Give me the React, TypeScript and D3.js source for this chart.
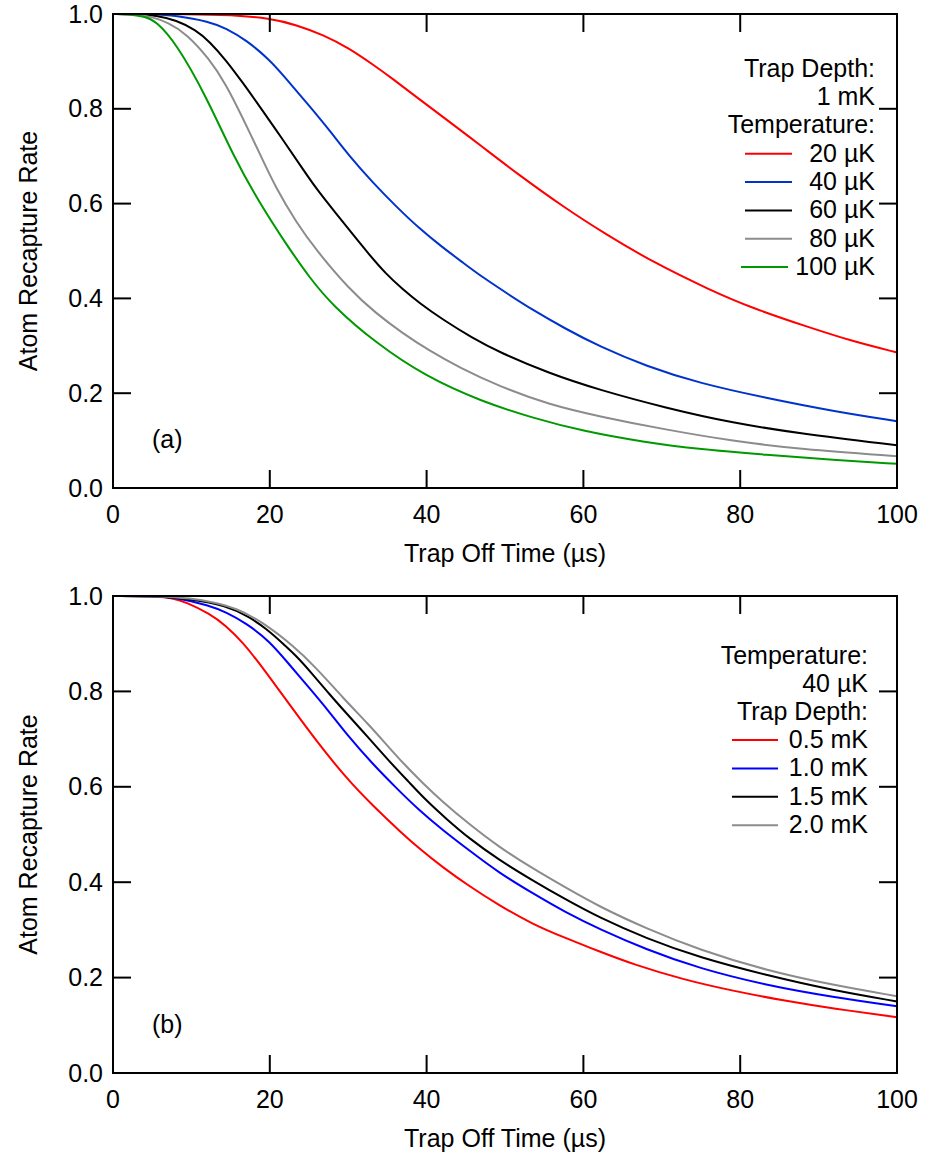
import React from "react";
import * as d3 from "d3";

type Pt = [number, number];

// Panel (a): trap depth 1 mK, varying temperature
const a20uK: Pt[] = [[0,1],[10,1],[15,0.998],[20,0.991],[23.4,0.977],[26.8,0.956],[30.1,0.928],[33.1,0.894],[35.7,0.863],[38.6,0.826],[42,0.784],[47.1,0.72],[51.4,0.665],[57.7,0.59],[62.9,0.535],[68.8,0.477],[76.1,0.418],[81.6,0.379],[88.4,0.341],[94.4,0.309],[100,0.286]];
const a40uK: Pt[] = [[0,1],[5,1],[8,0.997],[12.3,0.984],[14.4,0.97],[17,0.945],[20,0.903],[21.7,0.871],[25.1,0.805],[27.6,0.755],[30.1,0.701],[33.1,0.645],[36.1,0.594],[39.1,0.547],[42,0.508],[44.6,0.476],[47.1,0.445],[50.5,0.408],[53.5,0.376],[57.7,0.336],[62,0.299],[68,0.257],[74.8,0.221],[83.3,0.19],[91.9,0.162],[100,0.141]];
const a60uK: Pt[] = [[0,1],[3,1],[5.5,0.997],[8.07,0.987],[10.6,0.966],[12.3,0.942],[14.4,0.903],[16.6,0.854],[18.7,0.805],[21.7,0.734],[24.2,0.673],[25.9,0.632],[28.5,0.578],[30.6,0.535],[32.7,0.492],[34.8,0.452],[36.9,0.42],[39.1,0.39],[42,0.356],[45.9,0.316],[49.2,0.287],[55.6,0.242],[62,0.207],[70.5,0.169],[79.1,0.137],[87.6,0.115],[100,0.09]];
const a80uK: Pt[] = [[0,1],[3,0.999],[5,0.994],[7,0.982],[9.34,0.959],[12.3,0.905],[14.4,0.852],[16.6,0.779],[18.7,0.706],[20.8,0.632],[23.4,0.56],[25.9,0.502],[30.1,0.42],[33.5,0.369],[36.9,0.327],[40.3,0.29],[44.2,0.254],[49.2,0.215],[55.6,0.176],[62,0.151],[70.5,0.123],[79.1,0.099],[87.6,0.082],[100,0.067]];
const a100uK: Pt[] = [[0,1],[2,1],[4,0.995],[5.5,0.985],[8.07,0.938],[11.9,0.826],[15.3,0.702],[18.7,0.601],[22.1,0.514],[25.1,0.443],[28,0.385],[33.5,0.306],[39.9,0.235],[47.1,0.182],[53.5,0.148],[59.9,0.12],[68,0.096],[74.8,0.082],[83.3,0.07],[91.9,0.059],[100,0.051]];

// Panel (b): temperature 40 µK, varying trap depth
const b05mK: Pt[] = [[0,1],[5,1],[7.5,0.996],[9.34,0.987],[12.3,0.963],[14.4,0.938],[16.6,0.902],[18.7,0.858],[20.8,0.811],[22.9,0.764],[25.9,0.697],[29.7,0.619],[33.1,0.561],[36.9,0.502],[39.1,0.47],[42,0.432],[45.4,0.392],[49.2,0.352],[53.5,0.312],[57.7,0.283],[62,0.255],[66.3,0.228],[72.7,0.196],[79.1,0.172],[85.5,0.152],[91.9,0.135],[100,0.117]];
const b10mK: Pt[] = [[0,1],[5,1],[8,0.997],[12.3,0.98],[14.4,0.966],[17,0.943],[20,0.905],[22.5,0.856],[25.1,0.806],[27.6,0.757],[29.7,0.712],[33.1,0.648],[36.1,0.598],[39.1,0.55],[42,0.51],[45.4,0.467],[49.2,0.42],[53.5,0.377],[57.7,0.337],[62,0.302],[68,0.259],[74.8,0.219],[83.3,0.184],[91.9,0.159],[100,0.14]];
const b15mK: Pt[] = [[0,1],[6,1],[10,0.993],[14.4,0.98],[17.4,0.956],[19.5,0.932],[21.7,0.9],[23.4,0.874],[25.1,0.843],[27.6,0.794],[30.1,0.748],[32.7,0.701],[35.2,0.654],[37.8,0.609],[39.9,0.572],[42.5,0.533],[45.4,0.492],[49.2,0.447],[53.5,0.404],[57.7,0.364],[62,0.326],[68,0.282],[74.8,0.242],[83.3,0.205],[91.9,0.173],[100,0.15]];
const b20mK: Pt[] = [[0,1],[6,1],[10,0.995],[12.5,0.988],[15.7,0.975],[19.1,0.945],[22.9,0.897],[25.9,0.85],[29.3,0.787],[32.7,0.729],[34.8,0.69],[36.9,0.651],[39.5,0.608],[42,0.569],[45.4,0.522],[49.2,0.474],[53.5,0.429],[57.7,0.389],[62,0.349],[68,0.303],[74.8,0.258],[83.3,0.215],[91.9,0.184],[100,0.161]];

const xTicks = [0, 20, 40, 60, 80, 100];
const yTicks = [0, 0.2, 0.4, 0.6, 0.8, 1.0];

const legendA = ["20 µK", "40 µK", "60 µK", "80 µK", "100 µK"];
const legendB = ["0.5 mK", "1.0 mK", "1.5 mK", "2.0 mK"];

const RED = "#ff0000";
const BLUE = "#0033cc";
const BLUE2 = "#0000ff";
const BLACK = "#000000";
const GRAY = "#8c8c8c";
const GREEN = "#009900";

const FONT = "'Liberation Sans', Arial, sans-serif";
const FS = 25;

interface PanelProps {
  top: number;
  bottom: number;
  series: { data: Pt[]; color: string }[];
  label: string;
  legend: React.ReactNode;
}

function Panel({ top, bottom, series, label, legend }: PanelProps) {
  const left = 113;
  const right = 897;
  const x = d3.scaleLinear().domain([0, 100]).range([left, right]);
  const y = d3.scaleLinear().domain([0, 1]).range([bottom, top]);
  const line = d3
    .line<Pt>()
    .x((d) => x(d[0]))
    .y((d) => y(d[1]))
    .curve(d3.curveBasis);
  const TL = 18;
  return (
    <g>
      {series.map((s, i) => (
        <path key={i} d={line(s.data) || ""} fill="none" stroke={s.color} strokeWidth={2} />
      ))}
      <rect x={left} y={top} width={right - left} height={bottom - top} fill="none" stroke="#000" strokeWidth={2} />
      {xTicks.map((t) => (
        <g key={"x" + t}>
          <line x1={x(t)} x2={x(t)} y1={bottom} y2={bottom - TL} stroke="#000" strokeWidth={2} />
          <line x1={x(t)} x2={x(t)} y1={top} y2={top + TL} stroke="#000" strokeWidth={2} />
          <text x={x(t)} y={bottom + 35} textAnchor="middle" fontFamily={FONT} fontSize={FS}>
            {t}
          </text>
        </g>
      ))}
      {yTicks.map((t) => (
        <g key={"y" + t}>
          <line x1={left} x2={left + TL} y1={y(t)} y2={y(t)} stroke="#000" strokeWidth={2} />
          <line x1={right} x2={right - TL} y1={y(t)} y2={y(t)} stroke="#000" strokeWidth={2} />
          <text x={103} y={y(t) + 8.5} textAnchor="end" fontFamily={FONT} fontSize={FS}>
            {t.toFixed(1)}
          </text>
        </g>
      ))}
      <text x={(left + right) / 2} y={bottom + 74} textAnchor="middle" fontFamily={FONT} fontSize={FS}>
        Trap Off Time (µs)
      </text>
      <text
        transform={`translate(37, ${(top + bottom) / 2}) rotate(-90)`}
        textAnchor="middle"
        fontFamily={FONT}
        fontSize={FS}
      >
        Atom Recapture Rate
      </text>
      <text x={152} y={bottom - 40} fontFamily={FONT} fontSize={FS}>
        {label}
      </text>
      {legend}
    </g>
  );
}

export default function App() {
  const colorsA = [RED, BLUE, BLACK, GRAY, GREEN];
  const colorsB = [RED, BLUE2, BLACK, GRAY];
  const seriesA = [a20uK, a40uK, a60uK, a80uK, a100uK].map((d, i) => ({ data: d, color: colorsA[i] }));
  const seriesB = [b05mK, b10mK, b15mK, b20mK].map((d, i) => ({ data: d, color: colorsB[i] }));

  const legA = (
    <g fontFamily={FONT} fontSize={FS}>
      <text x={875} y={77} textAnchor="end">Trap Depth:</text>
      <text x={875} y={105} textAnchor="end">1 mK</text>
      <text x={875} y={133} textAnchor="end">Temperature:</text>
      {legendA.map((l, i) => {
        const by = 161.7 + i * 28.35;
        const x0 = i === 4 ? 741 : 745;
        return (
          <g key={l}>
            <line x1={x0} x2={x0 + 47} y1={by - 8} y2={by - 8} stroke={colorsA[i]} strokeWidth={2} />
            <text x={875} y={by} textAnchor="end">{l}</text>
          </g>
        );
      })}
    </g>
  );

  const legB = (
    <g fontFamily={FONT} fontSize={FS}>
      <text x={868} y={664} textAnchor="end">Temperature:</text>
      <text x={868} y={692} textAnchor="end">40 µK</text>
      <text x={868} y={720} textAnchor="end">Trap Depth:</text>
      {legendB.map((l, i) => {
        const by = 748 + i * 28.4;
        return (
          <g key={l}>
            <line x1={732} x2={778} y1={by - 8} y2={by - 8} stroke={colorsB[i]} strokeWidth={2} />
            <text x={868} y={by} textAnchor="end">{l}</text>
          </g>
        );
      })}
    </g>
  );

  return (
    <svg
      width={926}
      height={1160}
      style={{ position: "absolute", left: 0, top: 0, background: "#fff" }}
    >
      <rect width={926} height={1160} fill="#fff" />
      <Panel top={14} bottom={488} series={seriesA} label="(a)" legend={legA} />
      <Panel top={596} bottom={1073} series={seriesB} label="(b)" legend={legB} />
    </svg>
  );
}
